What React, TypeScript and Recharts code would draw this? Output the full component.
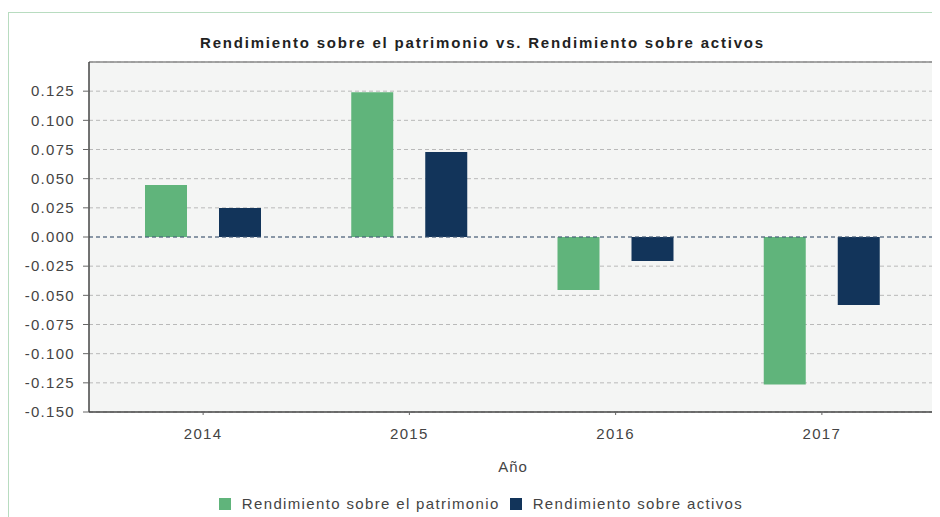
import React from "react";
import {
  BarChart,
  Bar,
  XAxis,
  YAxis,
  CartesianGrid,
  ReferenceLine,
  Legend,
} from "recharts";

const years = ["2014", "2015", "2016", "2017"];
const roe = [0.0445, 0.124, -0.0455, -0.1265];
const roa = [0.0248, 0.0728, -0.0205, -0.0583];
const yTicks = [-0.15, -0.125, -0.1, -0.075, -0.05, -0.025, 0, 0.025, 0.05, 0.075, 0.1, 0.125];
const yDomain: [number, number] = [-0.15, 0.15];
const seriesNames = ["Rendimiento sobre el patrimonio", "Rendimiento sobre activos"];
const title = "Rendimiento sobre el patrimonio vs. Rendimiento sobre activos";
const xTitle = "Año";

const GREEN = "#60b47b";
const NAVY = "#12345a";
const COLORS = [GREEN, NAVY];
const FONT = "'Liberation Sans', Arial, sans-serif";

const data = years.map((y, i) => ({ year: y, roe: roe[i], roa: roa[i] }));
const lastIndex = years.length - 1;

const LegendContent = () => {
  return (
    <div
      style={{
        display: "flex",
        justifyContent: "center",
        alignItems: "center",
        height: 14,
        paddingLeft: 13,
        fontFamily: FONT,
        fontSize: 15,
        letterSpacing: 1.35,
        color: "#444",
        lineHeight: "14px",
        whiteSpace: "nowrap",
      }}
    >
      {seriesNames.map((name, i) => (
        <div key={i} style={{ display: "flex", alignItems: "center", marginRight: i === 0 ? 10 : 0 }}>
          <div style={{ width: 12, height: 12, background: COLORS[i], marginRight: 11 }} />
          <span>{name}</span>
        </div>
      ))}
    </div>
  );
};

const XLabel = (props: any) => {
  const vb = props.viewBox || {};
  return (
    <text
      x={vb.x + vb.width / 2}
      y={vb.y + 60}
      textAnchor="middle"
      fontFamily={FONT}
      fontSize={15}
      letterSpacing={1}
      fill="#444"
    >
      {xTitle}
    </text>
  );
};

export default function App() {
  return (
    <div
      style={{
        position: "relative",
        marginTop: 4,
        width: 940,
        height: 505,
        borderTop: "1px solid #b8dcc0",
        borderLeft: "1px solid #b8dcc0",
        background: "#fff",
      }}
    >
      <div
        style={{
          position: "absolute",
          top: 21,
          left: 8,
          width: 931,
          textAlign: "center",
          fontFamily: FONT,
          fontSize: 15,
          fontWeight: "bold",
          letterSpacing: 1.8,
          lineHeight: "18px",
          color: "#222",
          whiteSpace: "nowrap",
        }}
      >
        {title}
      </div>
      <div style={{ position: "absolute", top: 0, left: 0 }}>
        <BarChart
          width={931}
          height={504}
          data={data}
          margin={{ top: 49, right: 3, left: 0, bottom: 0 }}
          barSize={42}
          barGap={32}
        >
          <CartesianGrid
            vertical={false}
            stroke="#b9b9b9"
            strokeDasharray="4 3"
            fill="#f4f5f4"
            fillOpacity={1}
          />
          <XAxis
            dataKey="year"
            height={105}
            padding={{ left: 11, right: 12 }}
            tickSize={3}
            tickMargin={13}
            axisLine={{ stroke: "#444", strokeWidth: 1.5 }}
            tickLine={{ stroke: "#666" }}
            tick={{ fontFamily: FONT, fontSize: 15, fill: "#444", letterSpacing: 1.3 }}
            label={<XLabel />}
          />
          <XAxis xAxisId="frame" type="number" domain={[0, lastIndex]} allowDataOverflow hide />
          <YAxis
            width={80}
            domain={yDomain}
            ticks={yTicks}
            interval={0}
            tickFormatter={(v: number) => v.toFixed(3)}
            tickSize={6}
            tickMargin={8}
            axisLine={{ stroke: "#444", strokeWidth: 1.5 }}
            tickLine={{ stroke: "#666" }}
            tick={{ fontFamily: FONT, fontSize: 15, fill: "#444", letterSpacing: 1.3 }}
          />
          <ReferenceLine y={0} stroke="#3d5676" strokeDasharray="4 3" />
          <ReferenceLine y={yDomain[1]} stroke="#8a8a8a" strokeWidth={1.5} ifOverflow="visible" />
          <ReferenceLine xAxisId="frame" x={lastIndex} stroke="#8a8a8a" strokeWidth={1.5} ifOverflow="visible" />
          <Legend
            layout="horizontal"
            verticalAlign="middle"
            align="center"
            wrapperStyle={{ top: 484, left: 0, width: 931 }}
            content={<LegendContent />}
          />
          <Bar dataKey="roe" name={seriesNames[0]} fill={GREEN} isAnimationActive={false} />
          <Bar dataKey="roa" name={seriesNames[1]} fill={NAVY} isAnimationActive={false} />
        </BarChart>
      </div>
    </div>
  );
}
